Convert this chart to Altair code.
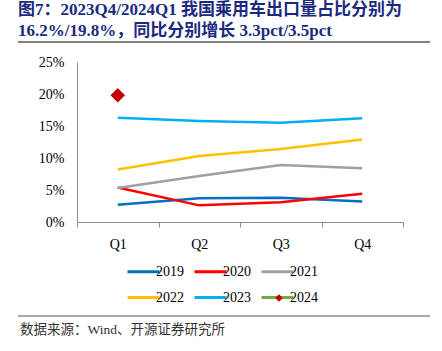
import altair as alt
import pandas as pd

quarters = ["Q1", "Q2", "Q3", "Q4"]
years = ["2019", "2020", "2021", "2022", "2023", "2024"]
v2019 = [2.7, 3.7, 3.8, 3.2]
v2020 = [5.4, 2.6, 3.1, 4.4]
v2021 = [5.3, 7.2, 8.9, 8.4]
v2022 = [8.2, 10.3, 11.4, 12.9]
v2023 = [16.3, 15.8, 15.5, 16.2]
v2024 = [19.8]
colors = ["#0070C0", "#FF0000", "#A0A0A0", "#FFC000", "#00B0F0", "#70AD47"]

title_lines = ["图7：2023Q4/2024Q1  我国乘用车出口量占比分别为",
               "16.2%/19.8%，同比分别增长 3.3pct/3.5pct"]
source = "数据来源：Wind、开源证券研究所"

rows = []
for yr, vals in zip(years[:5], [v2019, v2020, v2021, v2022, v2023]):
    for q, v in zip(quarters, vals):
        rows.append({"year": yr, "quarter": q, "value": v})
df = pd.DataFrame(rows)
pt = pd.DataFrame({"year": ["2024"] * len(v2024), "quarter": quarters[:len(v2024)], "value": v2024})

FONT = "'Liberation Serif', 'Noto Sans CJK SC', serif"

x = alt.X("quarter:N", sort=quarters, bandPosition=0.5,
          scale=alt.Scale(type="band", domain=quarters, paddingInner=0, paddingOuter=0),
          axis=alt.Axis(title=None, labelAngle=0, tickBand="extent", tickSize=5,
                        labelPadding=10, domainColor="#8C8C8C", tickColor="#8C8C8C",
                        labelFont=FONT, labelFontSize=14, labelColor="#000"))
y = alt.Y("value:Q", scale=alt.Scale(domain=[0, 25], nice=False),
          axis=alt.Axis(title=None, values=[0, 5, 10, 15, 20, 25], labelExpr="datum.value + '%'",
                        grid=False, ticks=False, labelPadding=13, domainColor="#8C8C8C",
                        labelFont=FONT, labelFontSize=14, labelColor="#000"))

lines = alt.Chart(df).mark_line(strokeWidth=2.5).encode(
    x=x, y=y,
    color=alt.Color("year:N", scale=alt.Scale(domain=years, range=colors),
                    legend=alt.Legend(title=None, orient="none", legendX=57, legendY=200,
                                      direction="horizontal", columns=3, symbolType="M-2,0H2",
                                      symbolSize=256, symbolStrokeWidth=3, columnPadding=4,
                                      rowPadding=9, labelFont=FONT, labelFontSize=14,
                                      labelColor="#000", labelOffset=3)),
)

points = alt.Chart(pt).mark_point(filled=True, color="#C00000", size=210, opacity=1).encode(
    x=x, y=y,
    shape=alt.Shape("year:N", scale=alt.Scale(domain=["2024"], range=["diamond"]),
                    legend=alt.Legend(title=None, orient="none", legendX=197, legendY=231,
                                      labelExpr="''", symbolSize=60, symbolFillColor="#C00000",
                                      symbolStrokeColor="#C00000", symbolOpacity=1)),
)

rules = alt.Chart(pd.DataFrame({"r": [0]})).mark_rule(color="#555555", strokeWidth=1.5).encode(
    x=alt.value(-59), x2=alt.value(353), y=alt.value(-20)
)
rule2 = alt.Chart(pd.DataFrame({"r": [0]})).mark_rule(color="#555555", strokeWidth=1.2).encode(
    x=alt.value(-59), x2=alt.value(353), y=alt.value(254)
)
src = alt.Chart(pd.DataFrame({"t": [source]})).mark_text(
    align="left", baseline="middle", font=FONT, fontSize=13.5, color="#333333"
).encode(x=alt.value(-57), y=alt.value(268), text="t:N")

chart = alt.layer(lines, points, rules, rule2, src).properties(
    width=326, height=160,
    autosize=alt.AutoSizeParams(type="none"),
    padding={"left": 77, "top": 62, "right": 39, "bottom": 129},
    title=alt.TitleParams(text=title_lines, anchor="start", frame="group", font=FONT, fontSize=17,
                          fontWeight="bold", color="#1B2A80", dx=-59, offset=1, lineHeight=21),
).configure_view(stroke=None)

chart.save("out.html", embed_options={"renderer": "svg", "actions": False})
